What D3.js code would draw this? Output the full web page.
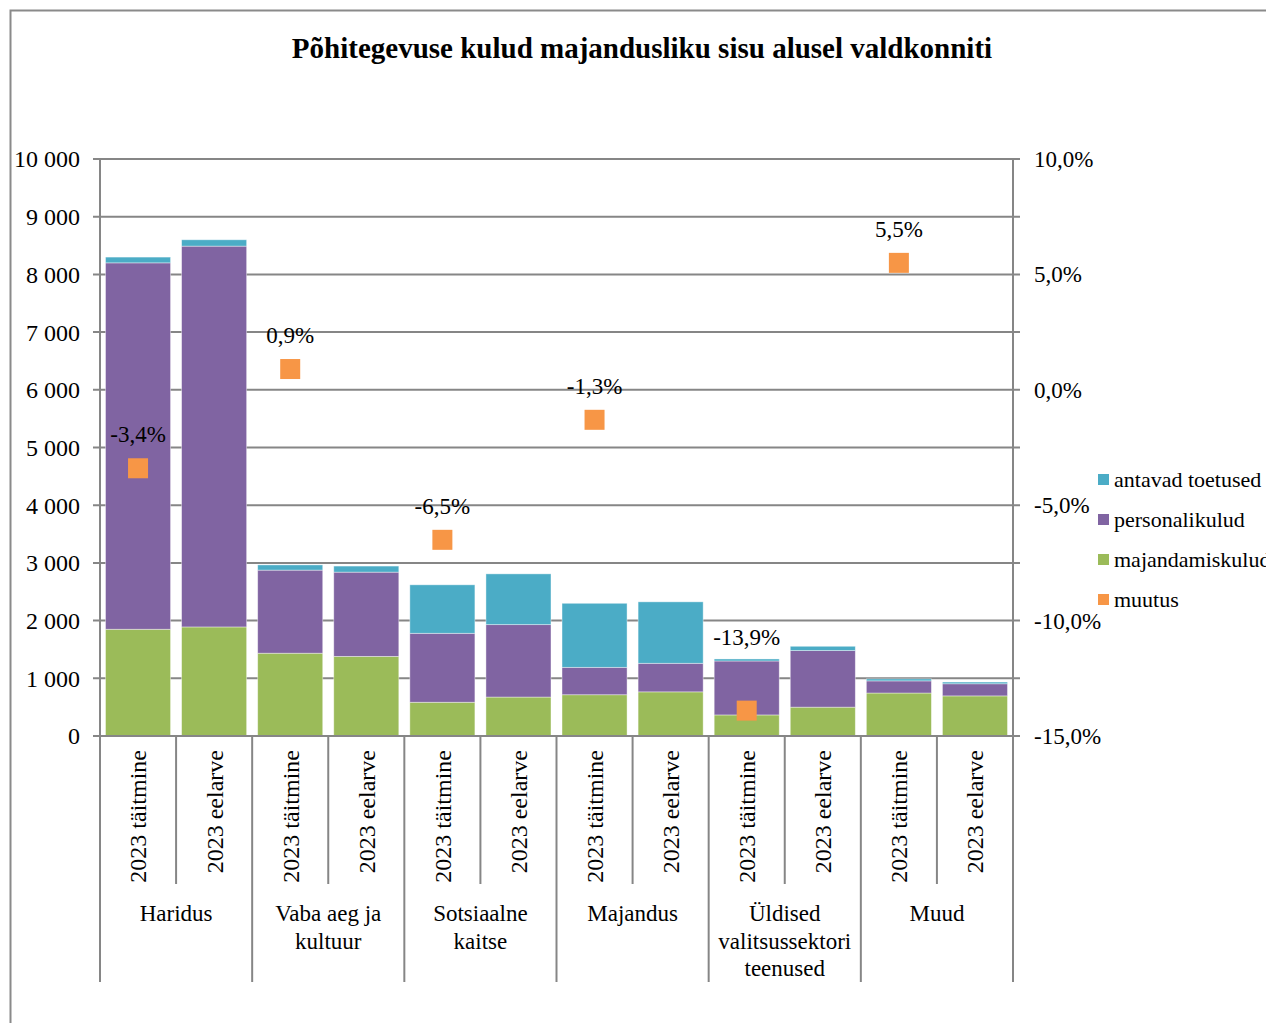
<!DOCTYPE html>
<html>
<head>
<meta charset="utf-8">
<script src="https://cdn.jsdelivr.net/npm/d3@7"></script>
<style>
  body { margin: 0; background: #fff; }
  svg { display: block; font-family: "Liberation Serif", "Times New Roman", serif; }
</style>
</head>
<body>
<svg id="chart" width="1266" height="1023"></svg>
<script>
// categories
var groups = ['Haridus', 'Vaba aeg ja kultuur', 'Sotsiaalne kaitse', 'Majandus', 'Üldised valitsussektori teenused', 'Muud'];
var groupLines = [['Haridus'], ['Vaba aeg ja', 'kultuur'], ['Sotsiaalne', 'kaitse'], ['Majandus'], ['Üldised', 'valitsussektori', 'teenused'], ['Muud']];
var periods = ['2023 täitmine', '2023 eelarve'];

// series values (thousand euros), two bars per group: täitmine, eelarve
var majandamiskulud = [1850, 1890, 1435, 1380, 585, 675, 715, 765, 365, 500, 745, 695];
var personalikulud  = [6350, 6600, 1440, 1460, 1195, 1255, 475, 495, 935, 980, 210, 210];
var antavadToetused = [100, 110, 90, 105, 840, 880, 1110, 1065, 35, 75, 35, 30];
// change per group, plotted on the täitmine bar
var muutus = [-0.034, 0.009, -0.065, -0.013, -0.139, 0.055];

var leftTicks = [0, 1000, 2000, 3000, 4000, 5000, 6000, 7000, 8000, 9000, 10000];
var rightTicks = [-0.15, -0.10, -0.05, 0, 0.05, 0.10];

var svg = d3.select('#chart');
var et = d3.formatLocale({decimal: ',', thousands: ' ', grouping: [3], currency: ['', ' €'], minus: '-'});
var fmtNum = et.format(',d');
var fmtPct = et.format('.1%');

var plotLeft = 100, plotRight = 1013, plotTop = 159, plotBottom = 736;
var gridColor = '#868686';
var fs = 23;
// label lift above each marker (the last-but-one label was moved up over its bar)
var labelLift = [26, 26, 26, 26, 66, 26];

// frame
svg.append('path')
    .attr('d', 'M10.5,1023 L10.5,10.5 L1266,10.5')
    .attr('fill', 'none').attr('stroke', '#8a8a8a').attr('stroke-width', 2);

svg.append('text')
    .attr('x', 642).attr('y', 58)
    .attr('text-anchor', 'middle')
    .attr('font-size', 29).attr('font-weight', 'bold')
    .text('Põhitegevuse kulud majandusliku sisu alusel valdkonniti');

var keys = [];
groups.forEach(function(g, gi) {
    periods.forEach(function(p, pi) { keys.push(gi + '|' + pi); });
});

var x = d3.scaleBand().domain(keys).range([plotLeft, plotRight]).paddingInner(0.145).paddingOuter(0.0725);
var xg = d3.scaleBand().domain(groups).range([plotLeft, plotRight]);
var y = d3.scaleLinear().domain([0, 10000]).range([plotBottom, plotTop]);
var y2 = d3.scaleLinear().domain([-0.15, 0.10]).range([plotBottom, plotTop]);

// grid
svg.append('g').selectAll('line').data(leftTicks).join('line')
    .attr('x1', plotLeft - 7).attr('x2', plotRight + 7)
    .attr('y1', function(d) { return y(d); }).attr('y2', function(d) { return y(d); })
    .attr('stroke', gridColor).attr('stroke-width', 2);

// left labels
svg.append('g').selectAll('text').data(leftTicks).join('text')
    .attr('x', 80).attr('y', function(d) { return y(d); }).attr('dy', '0.35em')
    .attr('text-anchor', 'end').attr('font-size', 24)
    .text(function(d) { return fmtNum(d); });

// right labels
svg.append('g').selectAll('text').data(rightTicks).join('text')
    .attr('x', 1034).attr('y', function(d) { return y2(d); }).attr('dy', '0.35em')
    .attr('font-size', fs)
    .text(function(d) { return fmtPct(d); });

// stacked bars
var rows = keys.map(function(k, i) {
    return {key: k, majandamiskulud: majandamiskulud[i], personalikulud: personalikulud[i], antavad: antavadToetused[i]};
});
var stack = d3.stack().keys(['majandamiskulud', 'personalikulud', 'antavad'])(rows);
var colors = {majandamiskulud: '#9BBB59', personalikulud: '#8064A2', antavad: '#4BACC6'};

svg.append('g').selectAll('g').data(stack).join('g')
    .attr('fill', function(s) { return colors[s.key]; })
    .selectAll('rect').data(function(s) { return s; }).join('rect')
    .attr('x', function(d) { return x(d.data.key); })
    .attr('width', x.bandwidth())
    .attr('y', function(d) { return y(d[1]); })
    .attr('height', function(d) { return y(d[0]) - y(d[1]); })
    .attr('stroke', '#ffffff').attr('stroke-opacity', 0.5).attr('stroke-width', 0.8);

// axes lines
svg.append('line').attr('x1', plotLeft).attr('x2', plotLeft).attr('y1', plotTop).attr('y2', 982)
    .attr('stroke', gridColor).attr('stroke-width', 2);
svg.append('line').attr('x1', plotRight).attr('x2', plotRight).attr('y1', plotTop).attr('y2', 982)
    .attr('stroke', gridColor).attr('stroke-width', 2);
svg.append('line').attr('x1', plotLeft).attr('x2', plotRight).attr('y1', plotBottom).attr('y2', plotBottom)
    .attr('stroke', gridColor).attr('stroke-width', 2);

// category separators
var step = x.step();
keys.forEach(function(k, i) {
    if (i === 0) return;
    var sx = plotLeft + i * step;
    svg.append('line').attr('x1', sx).attr('x2', sx)
        .attr('y1', plotBottom).attr('y2', i % 2 === 0 ? 982 : 884)
        .attr('stroke', gridColor).attr('stroke-width', 2);
});

// period labels (rotated)
svg.append('g').selectAll('text').data(keys).join('text')
    .attr('transform', function(k) {
        return 'translate(' + (x(k) + x.bandwidth() / 2) + ',750) rotate(-90)';
    })
    .attr('dy', '0.35em')
    .attr('text-anchor', 'end').attr('font-size', 24)
    .text(function(k) { return periods[+k.split('|')[1]]; });

// group labels
groups.forEach(function(g, gi) {
    var t = svg.append('text')
        .attr('x', xg(g) + xg.bandwidth() / 2).attr('y', 921)
        .attr('text-anchor', 'middle').attr('font-size', fs);
    groupLines[gi].forEach(function(line, li) {
        t.append('tspan').attr('x', xg(g) + xg.bandwidth() / 2)
            .attr('dy', li === 0 ? 0 : 27.5).text(line);
    });
});

// muutus markers
var pts = groups.map(function(g, gi) { return {key: gi + '|0', v: muutus[gi], lift: labelLift[gi]}; });
svg.append('g').selectAll('rect').data(pts).join('rect')
    .attr('x', function(d) { return x(d.key) + x.bandwidth() / 2 - 10; })
    .attr('y', function(d) { return y2(d.v) - 10; })
    .attr('width', 20).attr('height', 20)
    .attr('fill', '#F79646');
svg.append('g').selectAll('text').data(pts).join('text')
    .attr('x', function(d) { return x(d.key) + x.bandwidth() / 2; })
    .attr('y', function(d) { return y2(d.v) - d.lift; })
    .attr('text-anchor', 'middle').attr('font-size', fs)
    .text(function(d) { return fmtPct(d.v); });

// legend
var legend = [
    {name: 'antavad toetused', color: '#4BACC6'},
    {name: 'personalikulud', color: '#8064A2'},
    {name: 'majandamiskulud', color: '#9BBB59'},
    {name: 'muutus', color: '#F79646'}
];
var lg = svg.append('g').selectAll('g').data(legend).join('g')
    .attr('transform', function(d, i) { return 'translate(1098,' + (479 + i * 40) + ')'; });
lg.append('rect').attr('x', 0).attr('y', -5).attr('width', 11).attr('height', 11)
    .attr('fill', function(d) { return d.color; });
lg.append('text').attr('x', 16).attr('dy', '0.35em').attr('font-size', 22)
    .text(function(d) { return d.name; });
</script>
</body>
</html>
